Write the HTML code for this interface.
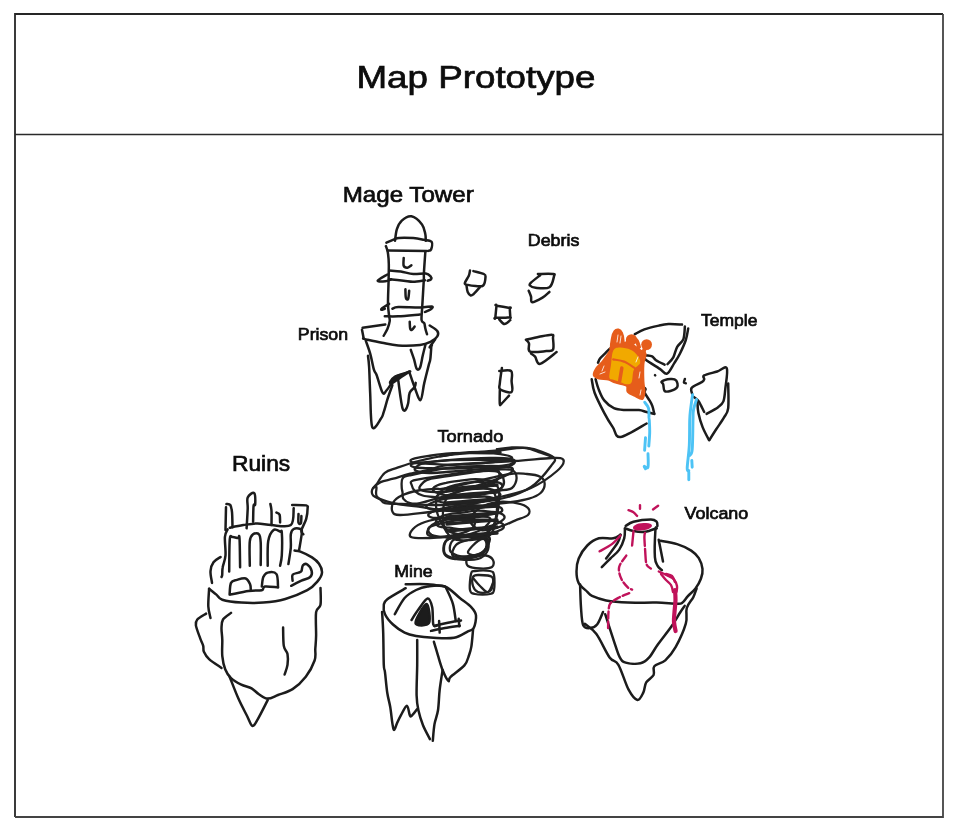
<!DOCTYPE html>
<html><head><meta charset="utf-8">
<style>
html,body{margin:0;padding:0;background:#fff;width:955px;height:831px;overflow:hidden}
svg{position:absolute;left:0;top:0;will-change:transform}
text{font-family:"Liberation Sans",sans-serif;fill:#0d0d0d;stroke:#0d0d0d;stroke-width:0.7}
</style></head><body>
<svg width="955" height="831" viewBox="0 0 955 831">
<path d="M15,817 L15,14 L943,14" fill="none" stroke="#262626" stroke-width="1.8"/>
<path d="M15,817 L943,817 L943,14" fill="none" stroke="#444" stroke-width="1.8"/>
<line x1="15" y1="134.5" x2="943" y2="134.5" stroke="#2a2a2a" stroke-width="1.6"/>
<text x="356.5" y="88.4" font-size="32" textLength="239" lengthAdjust="spacingAndGlyphs">Map Prototype</text>
<text x="342.7" y="201.8" font-size="22" textLength="131" lengthAdjust="spacingAndGlyphs">Mage Tower</text>
<text x="297.8" y="339.7" font-size="17" textLength="50.3" lengthAdjust="spacingAndGlyphs">Prison</text>
<text x="527.8" y="246.4" font-size="17" textLength="51.5" lengthAdjust="spacingAndGlyphs">Debris</text>
<text x="700.9" y="325.8" font-size="17" textLength="56.5" lengthAdjust="spacingAndGlyphs">Temple</text>
<text x="232" y="470.5" font-size="21.5" textLength="58.2" lengthAdjust="spacingAndGlyphs">Ruins</text>
<text x="437.5" y="442.2" font-size="17" textLength="65.8" lengthAdjust="spacingAndGlyphs">Tornado</text>
<text x="684.5" y="519.4" font-size="17" textLength="63.8" lengthAdjust="spacingAndGlyphs">Volcano</text>
<text x="394.2" y="576.9" font-size="17" textLength="38.5" lengthAdjust="spacingAndGlyphs">Mine</text>

<g fill="none" stroke="#1c1c1c" stroke-width="2.5" stroke-linecap="round" stroke-linejoin="round">
<path d="M395.0,240.8 C395.3,238.9 395.8,232.6 396.9,229.2 C398.0,225.8 399.4,222.8 401.8,220.6 C404.2,218.4 408.0,215.7 411.4,216.3 C414.8,216.9 419.7,221.4 422.0,224.4 C424.3,227.4 424.7,231.4 425.3,234.1 C425.9,236.8 425.7,239.7 425.8,240.8"/>
<path d="M386.4,242.7 C387.7,242.1 392.0,240.2 394.1,239.4 C396.2,238.6 395.7,238.1 398.9,237.9 C402.1,237.7 409.1,237.8 413.3,238.1 C417.5,238.4 420.8,239.2 423.9,239.8 C426.9,240.4 430.4,240.2 431.6,241.8 C432.8,243.4 431.7,248.0 431.1,249.5 C430.5,251.0 428.7,250.7 428.2,250.9"/>
<path d="M387.8,250.4 L426.8,250.9"/>
<path d="M385.9,246.1 C386.2,247.1 387.3,249.3 387.8,252.3 C388.3,255.3 388.7,259.3 388.8,263.9 C388.9,268.5 388.7,273.4 388.6,280.0 C388.5,286.6 387.9,297.9 388.0,303.8 C388.1,309.8 388.8,312.8 389.1,315.7 C389.4,318.6 390.0,319.0 389.7,321.2 C389.4,323.4 388.5,326.3 387.5,328.7 C386.5,331.1 384.3,334.6 383.7,335.8"/>
<path d="M425.3,252.3 C425.1,255.8 424.1,268.9 423.9,273.5 C423.6,278.1 424.1,274.4 423.8,280.0 C423.5,285.6 422.6,300.4 422.2,307.1 C421.8,313.8 421.2,317.4 421.6,320.1 C422.0,322.8 423.7,321.9 424.3,323.3 C424.9,324.7 424.9,326.9 425.4,328.7 C425.8,330.5 426.7,333.3 427.0,334.2"/>
<path d="M403.7,258.1 C403.7,259.4 403.1,264.2 403.7,265.8 C404.3,267.4 406.2,267.8 407.5,267.7 C408.8,267.6 410.8,265.7 411.4,265.3"/>
<path d="M405.4,289.2 C405.5,290.6 405.4,296.3 405.9,297.9 C406.3,299.5 407.6,300.2 408.1,299.0 C408.7,297.8 409.0,292.2 409.2,290.8"/>
<path d="M409.7,321.7 C409.8,322.9 409.8,327.3 410.2,328.7 C410.6,330.1 411.2,330.1 411.9,329.8 C412.6,329.5 414.2,327.1 414.6,326.6"/>
<path d="M389.2,270.6 C391.1,270.8 396.8,271.0 400.8,271.6 C404.8,272.2 409.1,273.7 413.3,274.0 C417.5,274.3 422.9,273.1 425.8,273.5 C428.7,273.9 429.7,275.4 430.6,276.4 C431.5,277.4 431.6,278.6 431.1,279.3 C430.6,280.0 428.3,280.5 427.7,280.7"/>
<path d="M387.3,274.5 C385.7,275.5 378.0,279.6 377.7,280.7 C377.4,281.8 383.1,281.4 385.4,281.2 C387.6,281.0 390.2,279.6 391.2,279.3"/>
<path d="M389.2,279.3 C391.6,279.5 399.7,280.3 403.7,280.7 C407.7,281.1 409.8,281.8 413.3,281.7 C416.8,281.6 423.0,280.5 424.9,280.3"/>
<path d="M392.4,308.7 C393.4,308.4 393.7,307.3 398.3,307.1 C402.9,306.9 414.4,307.7 420.0,307.6 C425.6,307.5 430.1,306.2 431.9,306.5 C433.7,306.8 432.0,308.3 430.8,309.2 C429.6,310.1 425.9,311.5 424.9,312.0"/>
<path d="M389.1,303.8 C387.9,304.5 383.4,307.2 382.1,308.2 C380.8,309.2 381.1,309.7 381.5,309.8 C381.9,309.9 384.2,308.9 384.8,308.7"/>
<path d="M384.8,316.3 C387.1,316.3 392.4,316.6 398.3,316.3 C404.2,316.0 416.4,314.7 420.0,314.4"/>
<path d="M362.6,327.7 L385.3,324.4"/>
<path d="M429.7,325.5 C431.0,326.4 436.0,329.1 437.3,330.9 C438.6,332.7 438.4,334.5 437.3,336.3 C436.2,338.1 433.7,340.2 430.8,341.7 C427.9,343.1 425.4,344.4 420.0,345.0 C414.6,345.6 404.6,345.9 398.3,345.5 C392.0,345.1 387.3,343.8 382.1,342.8 C376.9,341.8 370.1,340.3 366.9,339.6 C363.7,338.9 363.7,338.7 363.1,338.5"/>
<path d="M362.0,329.8 L363.7,338.5"/>
<path d="M365.8,340.7 C366.5,342.9 368.8,348.7 370.2,353.6 C371.6,358.5 372.9,366.3 374.0,369.9 C375.1,373.5 375.3,371.5 376.7,375.3 C378.1,379.1 381.0,390.2 382.6,392.7 C384.2,395.2 384.9,392.1 386.4,390.5 C387.9,388.9 390.2,385.2 391.8,382.9 C393.4,380.5 393.1,378.3 396.2,376.4 C399.3,374.5 407.9,372.3 410.2,371.5"/>
<path d="M368.0,355.8 C368.2,357.6 368.7,360.4 369.1,366.7 C369.5,373.0 369.7,383.6 370.2,393.7 C370.7,403.8 370.5,423.1 372.3,427.3 C374.1,431.5 379.1,421.1 381.0,418.6 C382.9,416.1 382.6,415.4 383.7,412.2 C384.8,409.0 386.1,403.7 387.5,399.2 C388.9,394.7 391.6,387.5 392.4,385.1"/>
<path d="M410.8,349.9 C411.3,351.4 413.0,356.0 414.0,359.1 C415.0,362.2 415.7,367.4 416.7,368.8 C417.7,370.2 419.0,369.9 420.0,367.7 C421.0,365.5 421.8,359.6 422.7,355.8 C423.6,352.0 424.9,346.8 425.4,345.0"/>
<path d="M435.1,339.6 C434.2,340.9 430.2,346.3 429.7,347.2 C429.2,348.1 431.5,345.4 431.9,345.0"/>
<path d="M431.4,345.0 C431.2,347.4 430.8,355.7 430.3,359.1 C429.8,362.5 429.6,361.6 428.6,365.6 C427.6,369.6 425.7,377.1 424.3,382.9 C422.9,388.7 422.1,399.5 420.5,400.2 C418.9,400.9 416.4,391.7 414.6,387.2 C412.8,382.7 410.5,375.5 409.7,373.2"/>
<path d="M398.3,380.7 C398.7,383.4 399.8,392.3 400.5,397.0 C401.2,401.7 401.9,406.7 402.7,408.9 C403.5,411.1 404.5,410.9 405.4,410.0 C406.3,409.1 407.4,406.4 408.1,403.5 C408.8,400.6 408.6,395.4 409.7,392.7 C410.8,390.0 413.6,388.8 414.6,387.2 C415.6,385.6 415.5,383.6 415.7,382.9"/>
<path d="M470.0,270.5 C469.8,271.4 469.7,273.6 468.8,275.7 C467.9,277.8 465.0,281.7 464.8,283.2 C464.6,284.7 465.9,284.4 467.7,284.9 C469.5,285.4 473.1,286.0 475.7,286.1 C478.3,286.2 481.6,287.0 483.2,285.5 C484.8,284.0 485.4,278.8 485.5,276.9 C485.6,275.0 485.8,275.0 483.8,274.0 C481.8,273.0 475.1,271.6 473.4,271.1" />
<path d="M466.5,285.5 C466.7,286.6 467.0,290.3 467.7,291.9 C468.4,293.5 469.6,294.9 470.5,295.3 C471.4,295.7 471.8,295.5 473.4,294.2 C474.9,292.9 478.7,288.4 479.8,287.3"/>
<path d="M537.9,274.0 C540.4,274.0 550.2,273.6 552.9,274.0 C555.6,274.4 554.6,274.1 554.0,276.3 C553.4,278.5 552.5,285.4 549.4,287.3 C546.3,289.2 538.9,288.1 535.6,287.8 C532.4,287.5 530.7,286.4 529.9,285.5 C529.1,284.6 529.3,284.3 531.0,282.6 C532.7,280.9 538.7,276.4 540.2,275.2" />
<path d="M528.7,290.7 C529.1,291.7 530.4,294.6 531.0,296.5 C531.6,298.4 530.3,302.0 532.2,302.2 C534.1,302.4 539.6,299.3 542.5,297.6 C545.4,295.9 548.2,292.8 549.4,291.9"/>
<path d="M496.5,305.7 C496.7,303.7 494.3,305.3 496.5,305.7 C498.7,306.1 507.5,307.6 509.7,308.0 C511.9,308.4 509.6,306.5 509.7,308.0 C509.8,309.5 510.2,315.7 510.3,317.2 C510.4,318.7 511.1,317.1 510.3,317.2 C509.5,317.3 508.2,317.7 505.7,317.8 C503.2,317.9 497.0,317.8 495.3,317.8 C493.6,317.8 495.1,319.8 495.3,317.8 C495.5,315.8 496.3,307.7 496.5,305.7 Z" />
<path d="M499.3,319.5 C500.2,320.3 502.7,324.0 504.5,324.1 C506.3,324.2 509.3,320.8 510.3,320.1"/>
<path d="M525.9,339.8 C528.1,339.3 534.9,337.7 539.2,336.8 C543.6,335.9 549.7,334.4 552.0,334.7 C554.3,334.9 552.8,335.8 553.0,338.3 C553.2,340.8 554.1,347.5 553.0,349.6 C551.9,351.7 550.2,350.8 546.4,351.1 C542.6,351.4 532.9,352.9 530.0,351.6 C527.1,350.3 529.7,345.4 529.0,343.4 C528.3,341.4 526.4,340.4 525.9,339.8" />
<path d="M531.0,353.6 C531.7,354.1 533.6,355.0 535.1,356.7 C536.6,358.4 536.6,364.7 540.2,363.9 C543.8,363.1 553.9,354.1 556.6,352.1"/>
<path d="M499.3,371.0 C501.3,371.0 509.1,369.3 511.1,371.0 C513.1,372.7 511.5,377.8 511.6,381.3 C511.7,384.8 513.5,390.6 511.6,392.0 C509.7,393.4 502.3,390.9 500.3,389.5 C498.3,388.1 499.5,386.9 499.8,383.3 C500.1,379.7 501.5,370.6 501.9,368.0" />
<path d="M499.8,390.5 C499.8,392.7 499.5,401.6 499.8,403.8 C500.1,406.0 499.9,405.2 501.4,403.8 C502.9,402.4 507.7,397.0 509.0,395.6"/>
<path d="M226.0,507.2 L225.5,530.0"/>
<path d="M226.5,504.0 C227.1,504.2 229.4,503.6 230.3,505.0 C231.2,506.4 231.6,508.4 232.0,512.1 C232.4,515.8 232.4,524.7 232.5,527.2"/>
<path d="M229.8,527.8 C232.1,527.3 238.7,525.8 243.3,525.1 C247.9,524.4 252.7,523.4 257.4,523.4 C262.1,523.4 265.9,524.8 271.5,525.1 C277.1,525.4 287.1,527.9 290.8,525.1 C294.5,522.3 293.2,511.1 293.7,508.3"/>
<path d="M246.6,528.3 C246.8,525.0 247.5,513.9 247.7,508.8 C247.9,503.7 246.6,500.1 247.7,497.5 C248.8,494.9 252.9,491.9 254.2,493.1 C255.4,494.3 255.3,502.4 255.2,504.5 C255.1,506.6 253.9,502.7 253.6,505.6 C253.2,508.5 253.2,519.1 253.1,521.8"/>
<path d="M270.4,504.0 C270.6,505.2 271.3,507.5 271.5,511.0 C271.7,514.5 271.5,522.8 271.5,525.1"/>
<path d="M276.4,512.6 C276.9,513.0 279.0,513.2 279.6,514.8 C280.2,516.4 280.0,521.1 280.1,522.4"/>
<path d="M292.2,504.9 C294.5,505.0 303.6,504.8 306.2,505.4 C308.8,506.0 307.6,506.1 307.6,508.3 C307.6,510.6 307.2,515.2 306.2,518.9 C305.2,522.6 301.9,527.8 301.4,530.4 C300.9,533.0 303.0,533.6 303.3,534.3"/>
<path d="M298.5,514.1 C298.5,515.5 298.1,521.2 298.5,522.7 C298.9,524.2 300.4,524.3 300.9,523.2 C301.4,522.1 301.3,517.2 301.4,516.0"/>
<path d="M227.6,529.4 C227.2,530.7 225.2,532.7 224.9,537.0 C224.6,541.3 225.9,550.4 225.5,555.4 C225.1,560.4 223.2,564.0 222.7,567.3 C222.1,570.6 222.4,573.4 222.2,575.0 C222.0,576.6 221.6,576.7 221.5,577.0"/>
<path d="M229.2,571.6 C229.3,566.2 229.2,545.0 229.8,539.2 C230.4,533.4 231.2,537.2 232.5,537.0 C233.8,536.8 236.7,537.9 237.9,538.1 C239.1,538.3 239.1,533.2 239.5,538.1 C239.9,543.0 240.0,562.4 240.1,567.3"/>
<path d="M249.8,565.7 C249.8,561.6 249.2,546.5 249.8,541.3 C250.4,536.1 251.6,535.5 253.1,534.3 C254.6,533.1 257.7,532.9 259.0,534.3 C260.3,535.6 260.4,537.3 260.7,542.4 C261.0,547.5 260.7,561.3 260.7,565.1"/>
<path d="M267.7,565.7 C267.8,561.6 267.2,547.2 268.2,541.3 C269.2,535.3 271.6,531.6 273.6,530.0 C275.6,528.4 278.7,531.1 280.1,531.6 C281.5,532.1 281.5,528.7 281.8,532.7 C282.1,536.7 282.1,549.9 281.8,555.4 C281.5,560.9 280.4,564.0 280.1,565.7"/>
<path d="M288.4,564.1 C288.8,561.4 290.4,552.7 290.8,547.7 C291.2,542.7 290.3,537.4 290.8,534.3 C291.3,531.2 292.1,529.9 293.7,529.0 C295.3,528.1 299.0,528.5 300.4,529.0 C301.8,529.5 302.1,528.7 301.9,532.3 C301.7,535.9 299.5,547.5 299.0,550.6"/>
<path d="M294.6,550.6 C295.6,550.8 297.5,550.5 300.4,551.6 C303.3,552.7 308.9,555.4 312.0,557.4 C315.1,559.4 317.3,561.3 319.0,563.8 C320.7,566.3 322.2,569.7 322.0,572.6 C321.8,575.5 319.9,578.5 317.5,581.4 C315.1,584.3 312.7,587.3 307.3,590.2 C301.9,593.1 292.6,596.9 285.3,599.0 C278.0,601.1 270.6,602.0 263.3,602.6 C256.0,603.2 248.1,603.1 241.3,602.6 C234.5,602.1 226.5,601.0 222.3,599.7 C218.2,598.4 218.6,596.4 216.4,594.6 C214.2,592.8 210.3,589.7 209.1,588.7"/>
<path d="M220.6,557.0 C219.4,557.9 215.2,559.9 213.5,562.3 C211.8,564.6 210.8,567.7 210.5,571.1 C210.2,574.5 211.8,580.9 212.0,582.9"/>
<path d="M229.6,594.6 C229.8,592.6 229.8,585.4 231.0,582.9 C232.2,580.4 234.5,580.6 236.9,579.9 C239.3,579.2 243.5,577.8 245.7,578.5 C247.9,579.2 249.2,582.3 250.1,584.3 C250.9,586.2 250.7,589.2 250.8,590.2"/>
<path d="M230.3,594.6 C233.4,594.0 243.3,591.6 248.6,590.9 C253.8,590.2 259.1,590.9 261.8,590.2 C264.5,589.5 262.1,587.0 264.8,586.5 C267.5,586.0 275.8,587.2 278.0,587.3"/>
<path d="M261.8,586.5 C262.1,584.9 262.3,579.3 263.3,577.0 C264.3,574.7 265.5,573.1 267.7,572.6 C269.9,572.1 274.8,571.7 276.5,574.1 C278.2,576.5 277.8,585.1 278.0,587.3"/>
<path d="M291.2,585.8 C292.9,584.9 298.2,582.2 301.4,580.7 C304.6,579.2 308.5,578.6 310.2,577.0 C311.9,575.4 312.2,573.2 311.7,571.1 C311.2,569.0 308.8,565.5 307.3,564.5 C305.8,563.5 303.9,564.2 302.9,565.3 C301.9,566.4 302.1,569.9 301.4,571.1 C300.7,572.3 300.0,572.0 298.5,572.6 C297.0,573.2 293.6,573.4 292.6,574.8 C291.6,576.1 292.6,579.7 292.6,580.7"/>
<path d="M209.1,588.7 C209.0,591.6 208.1,601.4 208.3,606.3 C208.5,611.2 210.1,616.0 210.5,618.0"/>
<path d="M206.1,613.6 C204.6,614.6 199.0,617.5 197.3,619.5 C195.6,621.5 195.4,622.2 195.9,625.4 C196.4,628.6 199.1,635.2 200.3,638.6 C201.5,642.0 202.6,643.7 203.2,645.9 C203.8,648.1 202.9,649.5 203.9,651.7 C204.9,653.9 206.2,656.4 209.1,659.1 C212.0,661.8 219.4,666.4 221.5,667.9"/>
<path d="M231.0,612.9 C229.7,614.0 224.6,616.9 223.0,619.5 C221.4,622.1 221.6,624.9 221.5,628.3 C221.4,631.7 222.2,635.4 222.3,640.0 C222.4,644.6 221.8,651.2 222.3,656.1 C222.8,661.0 223.8,665.6 225.2,669.3 C226.6,673.0 228.3,675.5 231.0,678.1 C233.7,680.7 237.9,683.0 241.3,684.7 C244.7,686.4 248.7,686.8 251.6,688.4 C254.5,690.0 256.2,692.5 258.9,694.2 C261.6,695.9 264.5,698.5 267.7,698.6 C270.9,698.7 273.9,696.6 278.0,695.0 C282.1,693.4 288.0,692.1 292.6,689.1 C297.2,686.1 302.1,681.5 305.8,676.7 C309.5,671.9 313.0,665.1 314.6,660.5 C316.2,655.9 315.1,652.9 315.3,648.8 C315.6,644.6 316.0,641.7 316.1,635.6 C316.2,629.5 315.4,617.3 316.1,612.2 C316.8,607.1 319.8,608.8 320.5,604.8 C321.2,600.8 320.5,590.8 320.5,588.0"/>
<path d="M229.6,676.7 C231.1,680.4 235.5,692.0 238.4,698.6 C241.3,705.2 244.9,711.7 247.2,716.2 C249.5,720.7 250.6,725.2 252.3,725.8 C254.0,726.4 254.8,724.2 257.4,719.9 C260.0,715.6 266.0,703.4 267.7,700.1"/>
<path d="M283.1,627.6 C283.2,630.6 283.1,641.5 283.8,645.9 C284.5,650.3 286.9,650.7 287.5,653.9 C288.1,657.1 288.0,661.5 287.5,664.9 C287.0,668.3 285.1,672.9 284.6,674.5"/>
<path d="M405.7,584.2 C409.4,584.2 421.1,583.8 427.6,584.2 C434.1,584.6 442.0,586.1 444.9,586.5"/>
<path d="M405.7,588.2 C402.6,590.0 390.9,596.4 387.3,599.2 C383.7,602.0 384.2,602.5 383.8,605.0 C383.4,607.5 383.5,611.0 385.0,614.2 C386.5,617.5 389.7,621.4 393.0,624.5 C396.3,627.6 400.8,630.7 404.6,632.6 C408.5,634.5 411.3,635.1 416.1,636.0 C420.9,636.9 427.0,637.5 433.3,637.8 C439.6,638.1 448.3,638.9 454.1,637.8 C459.9,636.7 464.6,633.0 467.9,631.4 C471.2,629.8 472.3,630.7 473.7,628.0 C475.1,625.3 476.4,618.8 476.0,615.3 C475.6,611.8 474.1,610.2 471.4,607.3 C468.7,604.4 464.2,601.5 459.8,598.0 C455.4,594.5 450.3,588.4 444.9,586.5 C439.5,584.6 432.4,585.9 427.6,586.5 C422.8,587.1 419.9,588.1 416.1,590.0 C412.3,591.9 408.2,594.0 404.6,598.0 C401.1,602.0 396.4,611.5 394.8,614.2"/>
<path d="M446.0,587.7 C447.1,590.4 451.3,598.2 452.9,603.8 C454.5,609.4 455.3,618.2 455.8,621.1"/>
<path d="M411.5,620.0 C412.6,618.3 415.7,613.2 418.4,609.6 C421.1,606.0 425.3,599.0 427.6,598.6 C429.9,598.2 431.2,603.0 432.2,607.3 C433.1,611.6 432.5,621.4 433.3,624.5 C434.1,627.6 436.2,625.5 436.8,625.7"/>
<path d="M415.5,623.0 C415.1,619.8 424.2,604.0 426.5,604.0 C428.8,604.0 430.8,619.8 429.0,623.0 C427.2,626.2 415.9,626.2 415.5,623.0 Z" fill="#1c1c1c"/>
<path d="M431.0,630.9 C433.3,630.4 440.1,628.9 444.9,628.0 C449.7,627.1 457.3,626.1 459.8,625.7"/>
<path d="M434.5,625.7 C437.2,625.1 446.2,623.1 450.6,622.2 C455.0,621.3 459.3,620.8 461.0,620.5"/>
<path d="M439.1,621.1 L439.7,632.6"/>
<path d="M458.7,618.8 L459.3,626.3"/>
<path d="M382.1,611.9 C382.3,615.4 382.9,623.8 383.2,632.6 C383.5,641.5 383.5,658.4 383.8,665.0 C384.1,671.6 384.4,667.6 385.0,672.3 C385.6,677.0 386.4,687.2 387.3,693.0 C388.2,698.8 389.3,701.6 390.2,706.8 C391.1,712.0 391.8,720.2 392.5,724.1 C393.2,728.0 393.4,730.1 394.2,729.9 C395.0,729.7 396.0,725.5 397.1,723.0 C398.2,720.5 399.5,717.8 401.1,714.9 C402.7,712.0 405.5,705.7 406.9,705.7 C408.3,705.7 408.9,713.2 409.7,714.9 C410.5,716.6 410.2,717.0 411.5,716.0 C412.8,715.0 416.2,710.2 417.2,709.1"/>
<path d="M417.2,640.1 C417.2,644.2 417.3,655.8 417.2,665.0 C417.1,674.2 416.4,687.8 416.6,695.3 C416.8,702.8 417.3,705.3 418.4,710.3 C419.5,715.3 421.1,720.5 423.0,725.3 C424.9,730.1 428.8,736.8 429.9,739.1"/>
<path d="M433.9,641.8 C434.6,644.1 436.6,650.9 438.0,655.6 C439.4,660.3 440.9,665.8 442.6,670.0 C444.3,674.2 447.0,679.8 448.3,680.9 C449.6,682.0 447.9,679.5 450.6,676.9 C453.3,674.3 461.3,669.0 464.4,665.4 C467.5,661.8 467.9,658.2 469.1,655.0 C470.3,651.8 470.7,650.7 471.4,646.4 C472.1,642.1 472.8,632.0 473.1,629.1"/>
<path d="M442.6,670.0 C442.1,673.3 440.5,682.9 439.7,689.6 C438.9,696.3 438.9,704.5 438.0,710.3 C437.1,716.0 435.4,719.0 434.5,724.1 C433.6,729.2 433.1,738.0 432.8,740.8"/>
<path d="M625.6,526.0 C626.9,525.3 629.3,522.8 633.5,521.7 C637.7,520.6 647.0,519.5 650.9,519.5 C654.8,519.5 655.5,520.6 656.6,521.7 C657.7,522.8 657.3,525.3 657.4,526.0"/>
<path d="M624.9,528.2 C626.3,528.7 630.1,530.5 633.5,531.1 C636.9,531.7 641.2,532.3 645.1,531.8 C649.0,531.3 654.7,528.8 656.6,528.2"/>
<path d="M624.9,528.9 C624.8,530.5 625.2,534.8 624.2,538.3 C623.2,541.8 621.4,546.5 619.1,549.9 C616.8,553.3 613.3,555.6 610.4,558.5 C607.5,561.4 603.2,565.8 601.8,567.2"/>
<path d="M620.5,534.7 C620.0,536.0 620.1,538.7 617.7,542.7 C615.3,546.7 608.0,555.9 606.1,558.5"/>
<path d="M656.6,528.2 C656.4,528.5 655.7,525.2 655.4,530.0 C655.1,534.8 654.5,551.1 654.9,557.1 C655.3,563.1 656.4,563.6 657.6,565.8 C658.8,568.0 661.2,569.4 661.9,570.1"/>
<path d="M658.7,539.8 L663.0,561.4"/>
<path d="M620.5,534.7 C619.3,535.3 616.9,537.7 613.3,538.3 C609.7,538.9 603.2,537.1 598.9,538.3 C594.6,539.5 590.7,542.1 587.3,545.5 C583.9,548.9 580.5,554.2 578.7,558.5 C576.9,562.8 576.5,567.4 576.5,571.5 C576.5,575.6 576.9,579.7 578.7,583.1 C580.5,586.5 585.1,589.7 587.3,591.8 C589.5,593.9 588.9,594.5 592.0,595.9 C595.1,597.3 600.1,599.3 606.1,600.4 C612.1,601.5 619.4,602.2 627.8,602.6 C636.2,603.0 648.4,602.4 656.6,602.6 C664.8,602.8 672.8,603.7 677.1,603.7 C681.4,603.7 680.7,603.9 682.5,602.6 C684.3,601.3 685.7,598.5 687.9,596.1 C690.1,593.8 693.3,591.4 695.5,588.5 C697.7,585.6 699.7,582.0 700.9,578.8 C702.1,575.5 702.9,572.4 702.5,569.0 C702.1,565.6 700.7,561.3 698.8,558.2 C696.9,555.1 694.8,553.0 691.2,550.6 C687.6,548.2 682.2,545.7 677.1,544.1 C672.0,542.5 663.5,541.3 660.8,540.8"/>
<path d="M580.1,584.5 C580.2,588.4 580.5,600.8 581.0,607.6 C581.5,614.4 581.7,621.8 583.2,625.2 C584.7,628.6 587.5,628.2 589.8,628.1 C592.1,628.0 594.9,627.2 597.1,624.5 C599.3,621.8 602.0,614.1 603.0,612.0"/>
<path d="M584.7,623.7 C586.7,625.4 592.2,628.4 596.4,634.0 C600.5,639.6 605.9,652.3 609.6,657.4 C613.3,662.5 615.2,659.4 618.4,664.8 C621.6,670.2 625.4,683.8 628.6,689.7 C631.8,695.6 635.0,699.5 637.4,700.0 C639.8,700.5 641.8,695.5 643.3,692.6 C644.8,689.7 644.5,685.3 646.2,682.4 C647.9,679.5 652.2,677.7 653.6,675.0 C655.0,672.3 652.3,668.6 654.3,666.2 C656.2,663.8 661.8,663.6 665.3,660.4 C668.8,657.2 672.2,653.3 675.6,647.2 C679.0,641.1 683.9,630.2 685.8,623.7 C687.7,617.2 685.5,612.4 686.8,608.0 C688.0,603.6 691.7,600.5 693.3,597.2 C694.9,594.0 696.0,590.0 696.6,588.5"/>
<path d="M605.2,614.2 C606.7,618.7 611.6,634.1 614.0,641.3 C616.4,648.5 617.8,653.8 619.8,657.4 C621.8,661.0 622.3,661.6 625.7,662.6 C629.1,663.6 636.5,664.2 640.4,663.3 C644.3,662.4 646.3,660.6 649.2,657.4 C652.1,654.2 654.3,649.3 658.0,644.2 C661.7,639.1 667.5,632.0 671.2,626.7 C674.9,621.4 678.0,615.8 680.3,612.3 C682.5,608.8 684.0,606.9 684.7,605.8"/>
<path d="M634.8,334.2 C636.4,333.4 640.4,330.8 644.4,329.4 C648.4,328.0 654.9,326.5 658.9,325.6 C662.9,324.7 664.6,324.3 668.5,324.1 C672.4,323.9 679.8,324.5 682.0,324.6"/>
<path d="M684.9,326.5 C684.6,328.6 684.7,335.7 683.4,339.1 C682.1,342.5 678.9,343.8 677.2,346.8 C675.5,349.8 674.9,354.4 673.3,357.3 C671.7,360.2 668.5,363.0 667.5,364.1"/>
<path d="M688.2,328.5 C687.8,330.4 687.2,335.8 685.8,340.0 C684.4,344.2 681.9,349.6 680.0,353.5 C678.1,357.4 676.5,359.7 674.3,363.1 C672.1,366.5 669.4,372.7 667.0,373.7 C664.6,374.7 663.2,371.1 659.8,368.9 C656.4,366.6 649.0,362.1 646.4,360.2 C643.8,358.3 644.7,357.8 644.4,357.3"/>
<path d="M646.4,355.4 C647.4,355.6 650.5,355.6 652.1,356.4 C653.7,357.2 653.9,358.8 656.0,360.2 C658.1,361.6 663.2,363.9 664.6,364.6"/>
<path d="M661.8,381.4 C663.0,380.5 668.0,379.2 670.4,379.0 C672.8,378.8 675.1,379.0 676.2,380.4 C677.3,381.8 678.2,385.4 677.2,387.2 C676.2,389.0 672.5,390.4 670.4,391.0 C668.3,391.6 665.8,392.1 664.6,391.0 C663.4,389.9 663.7,385.9 663.2,384.3 C662.7,382.7 660.6,382.3 661.8,381.4 Z" />
<path d="M684.9,379.0 C684.7,379.6 683.8,381.7 683.9,382.4 C684.0,383.1 685.5,383.1 685.8,383.3"/>
<path d="M655.0,375.2 L655.2,375.4"/>
<path d="M692.1,393.7 C692.0,392.7 690.1,389.8 691.7,387.9 C693.3,386.0 699.7,383.6 701.8,382.1 C703.9,380.7 703.8,380.3 704.2,379.2 C704.6,378.1 702.0,376.7 704.2,375.4 C706.4,374.1 713.4,372.7 717.2,371.5 C721.0,370.3 725.4,365.3 726.8,368.2 C728.1,371.1 725.9,383.4 725.3,388.9 C724.7,394.4 724.6,398.3 723.4,401.4 C722.2,404.4 720.9,405.1 718.1,407.2 C715.3,409.3 708.5,412.8 706.6,413.9"/>
<path d="M693.1,396.6 C693.9,397.2 696.6,399.0 697.9,400.4 C699.2,401.8 699.8,403.3 700.8,405.2 C701.8,407.1 703.6,410.9 704.2,412.0"/>
<path d="M728.2,383.6 C728.2,387.7 728.9,402.4 728.2,408.1 C727.5,413.8 725.9,414.2 723.9,417.7 C721.9,421.2 718.6,425.6 716.2,429.3 C713.8,433.0 710.6,438.1 709.5,439.9"/>
<path d="M697.4,401.4 C697.6,403.3 697.5,408.6 698.4,412.9 C699.3,417.2 700.9,422.8 702.7,427.4 C704.5,431.9 708.0,438.1 709.1,440.2"/>
<path d="M609.9,348.6 C609.2,349.3 607.2,351.3 605.6,352.9 C604.0,354.5 601.5,356.7 600.2,358.3 C598.9,359.9 598.4,362.0 598.0,362.7"/>
<path d="M595.6,379.2 C596.1,380.8 597.1,385.4 598.5,388.9 C599.9,392.4 601.6,397.2 604.2,400.4 C606.8,403.6 610.4,406.5 613.9,408.1 C617.4,409.7 621.2,409.7 625.4,410.0 C629.6,410.3 635.4,409.7 638.9,410.0 C642.4,410.3 644.0,411.4 646.6,412.0 C649.2,412.6 653.0,413.6 654.3,413.9"/>
<path d="M591.7,379.2 C592.2,381.4 592.5,387.1 594.6,392.7 C596.7,398.3 601.2,407.1 604.2,412.9 C607.2,418.7 610.2,423.4 612.9,427.4 C615.6,431.4 615.0,437.6 620.6,437.0 C626.2,436.4 642.3,425.8 646.6,423.5"/>
<path d="M642.7,387.0 C643.2,387.3 645.3,387.9 645.6,388.9 C645.9,389.8 644.1,390.8 644.7,392.7 C645.4,394.6 648.2,398.1 649.5,400.4 C650.8,402.6 651.6,403.9 652.4,406.2 C653.2,408.4 654.0,412.6 654.3,413.9"/>
</g>
<path d="M390.0,382.0 C390.5,380.8 392.9,377.8 395.0,376.5 C397.1,375.2 400.2,375.3 402.7,374.5 C405.1,373.7 410.1,370.9 409.7,371.5 C409.2,372.1 402.9,376.0 400.0,378.0 C397.1,380.0 393.7,382.8 392.0,383.5 C390.3,384.2 389.5,383.2 390.0,382.0 Z" fill="#1c1c1c" stroke="#1c1c1c" stroke-width="2.2" stroke-linejoin="round"/>
<path d="M611.0,348.0 C612.6,346.9 616.8,344.7 620.0,344.0 C623.2,343.3 626.5,342.8 630.0,344.0 C633.5,345.2 638.5,349.4 641.0,351.0 C643.5,352.6 644.9,351.6 645.3,353.8 C645.7,356.0 643.6,359.4 643.2,364.0 C642.9,368.6 643.0,376.8 643.2,381.4 C643.4,386.0 644.4,388.7 644.2,391.6 C644.0,394.5 643.7,398.1 642.2,398.8 C640.7,399.5 637.4,396.9 635.0,395.7 C632.6,394.5 629.3,393.3 627.9,391.6 C626.5,389.9 628.8,387.0 626.8,385.5 C624.8,384.0 618.7,383.4 615.6,382.4 C612.5,381.4 611.1,380.1 608.4,379.4 C605.7,378.7 601.6,379.0 599.2,378.3 C596.8,377.6 594.6,376.8 594.1,375.3 C593.6,373.8 594.6,371.5 596.1,369.1 C597.6,366.7 600.9,364.0 603.3,360.9 C605.7,357.8 609.2,352.8 610.5,350.7 C611.8,348.6 609.4,349.1 611.0,348.0 Z" fill="#e65d1b" stroke="#e65d1b" stroke-width="2.5" stroke-linejoin="round"/>
<path d="M611.5,350.0 C609.7,348.3 611.5,341.2 612.0,338.0 C612.5,334.8 613.4,332.4 614.5,331.0 C615.6,329.6 617.2,329.2 618.5,329.5 C619.8,329.8 621.2,331.2 622.0,333.0 C622.8,334.8 623.3,337.5 623.5,340.0 C623.7,342.5 625.0,346.3 623.0,348.0 C621.0,349.7 613.3,351.7 611.5,350.0 Z" fill="#e65d1b" stroke="#e65d1b" stroke-width="2" stroke-linejoin="round"/>
<circle cx="631.5" cy="339.8" r="5.6" fill="#e65d1b"/>
<circle cx="646.6" cy="344.6" r="5.4" fill="#e65d1b"/>
<path d="M626.0,345.0 C626.5,344.2 627.3,340.8 629.0,340.0 C630.7,339.2 634.3,338.8 636.0,340.0 C637.7,341.2 638.5,345.8 639.0,347.0" fill="none" stroke="#e65d1b" stroke-width="4" stroke-linecap="round"/>
<path d="M643.0,354.0 C643.3,353.0 644.2,349.5 645.0,348.0 C645.8,346.5 647.5,345.5 648.0,345.0" fill="none" stroke="#e65d1b" stroke-width="4" stroke-linecap="round"/>
<path d="M613.2,350.7 C614.7,347.8 616.8,347.7 619.7,347.5 C622.6,347.3 627.6,348.4 630.5,349.7 C633.4,351.0 635.4,352.9 637.0,355.1 C638.6,357.3 640.8,360.2 640.2,362.7 C639.7,365.2 635.1,366.9 633.7,370.2 C632.3,373.4 632.9,379.8 631.6,382.2 C630.4,384.6 628.0,384.3 626.2,384.3 C624.4,384.3 622.7,382.9 620.7,382.2 C618.7,381.5 616.1,380.7 614.2,380.0 C612.3,379.3 609.9,380.3 609.4,377.8 C608.9,375.3 610.4,369.3 611.0,364.8 C611.6,360.3 611.8,353.6 613.2,350.7 Z" fill="#f1a900" stroke="none"/>
<path d="M613.2,359.4 C615.0,359.8 620.4,360.2 624.0,361.6 C627.6,363.1 633.0,367.0 634.8,368.1" fill="none" stroke="#e65d1b" stroke-width="2.2" stroke-linecap="round"/>
<path d="M621.8,368.1 L619.7,381.0" fill="none" stroke="#e65d1b" stroke-width="3.5" stroke-linecap="round"/>
<path d="M618.0,335.0 L617.0,342.0" fill="none" stroke="#fff" stroke-width="1.0" stroke-linecap="round" opacity="0.8"/>
<path d="M621.0,336.0 L620.0,343.0" fill="none" stroke="#fff" stroke-width="1.0" stroke-linecap="round" opacity="0.8"/>
<path d="M600.0,374.0 L605.0,372.0" fill="none" stroke="#fff" stroke-width="1.0" stroke-linecap="round" opacity="0.8"/>
<path d="M640.0,372.0 L639.0,378.0" fill="none" stroke="#fff" stroke-width="1.0" stroke-linecap="round" opacity="0.8"/>
<path d="M641.0,390.0 L640.0,395.0" fill="none" stroke="#fff" stroke-width="1.0" stroke-linecap="round" opacity="0.8"/>
<path d="M604.0,366.0 L602.0,371.0" fill="none" stroke="#fff" stroke-width="1.0" stroke-linecap="round" opacity="0.8"/>
<path d="M638.0,357.0 L636.0,362.0" fill="none" stroke="#fff" stroke-width="1.0" stroke-linecap="round" opacity="0.8"/>
<path d="M644.7,402.3 C645.3,403.3 647.8,405.5 648.5,408.1 C649.2,410.7 648.9,415.7 649.0,417.7 C649.1,419.7 649.2,417.5 649.3,420.0 C649.4,422.5 649.8,428.2 649.7,432.6 C649.6,437.0 648.9,443.9 648.8,446.1" fill="none" stroke="#4dc3f5" stroke-width="2.9" stroke-linecap="round" stroke-linejoin="round"/>
<path d="M645.5,437.7 L644.6,450.3" fill="none" stroke="#4dc3f5" stroke-width="2.9" stroke-linecap="round" stroke-linejoin="round"/>
<path d="M648.0,453.7 C648.0,455.9 648.6,465.1 648.0,467.2 C647.4,469.3 644.6,466.0 644.2,466.3 C643.8,466.6 645.3,468.4 645.5,468.8" fill="none" stroke="#4dc3f5" stroke-width="2.9" stroke-linecap="round" stroke-linejoin="round"/>
<path d="M692.6,394.6 C692.2,397.2 691.0,405.8 690.5,410.0 C690.0,414.2 689.9,414.1 689.7,420.0 C689.5,425.9 689.7,437.3 689.3,445.3 C688.9,453.3 687.3,463.8 687.2,468.0 C687.1,472.2 688.5,470.1 688.8,470.5" fill="none" stroke="#4dc3f5" stroke-width="2.9" stroke-linecap="round" stroke-linejoin="round"/>
<path d="M688.8,472.0 L688.8,479.8" fill="none" stroke="#4dc3f5" stroke-width="2.9" stroke-linecap="round" stroke-linejoin="round"/>
<path d="M696.5,399.5 C696.0,401.2 694.1,406.6 693.5,410.0 C692.9,413.4 693.2,413.4 693.0,420.0 C692.8,426.6 692.8,443.6 692.2,449.5 C691.7,455.4 690.1,454.4 689.7,455.4" fill="none" stroke="#4dc3f5" stroke-width="2.9" stroke-linecap="round" stroke-linejoin="round"/>
<path d="M691.8,460.4 L692.2,467.2" fill="none" stroke="#4dc3f5" stroke-width="2.9" stroke-linecap="round" stroke-linejoin="round"/>
<path d="M628.5,510.2 C629.3,510.5 632.1,511.3 633.5,512.3 C634.9,513.2 636.5,515.3 637.1,515.9" fill="none" stroke="#c0125a" stroke-width="2.4" stroke-linecap="round" stroke-linejoin="round"/>
<path d="M640.0,505.1 L640.0,508.7" fill="none" stroke="#c0125a" stroke-width="2.4" stroke-linecap="round" stroke-linejoin="round"/>
<path d="M653.0,509.4 L658.1,505.8" fill="none" stroke="#c0125a" stroke-width="2.4" stroke-linecap="round" stroke-linejoin="round"/>
<path d="M634.0,527.5 C634.3,526.7 637.0,525.1 639.0,524.5 C641.0,523.9 644.0,523.8 646.0,524.0 C648.0,524.2 650.8,524.8 651.0,525.5 C651.2,526.2 649.3,527.8 647.0,528.5 C644.7,529.2 639.2,529.7 637.0,529.5 C634.8,529.3 633.7,528.3 634.0,527.5 Z" fill="#c0125a" stroke="#c0125a" stroke-width="2"/>
<path d="M633.5,531.1 L632.1,545.5" fill="none" stroke="#c0125a" stroke-width="2.4" stroke-linecap="round" stroke-linejoin="round"/>
<path d="M626.3,555.6 C625.1,557.5 619.9,563.3 619.1,567.2 C618.3,571.1 619.8,575.4 621.3,578.8 C622.8,582.2 626.0,585.6 627.8,587.4 C629.6,589.2 631.4,589.2 632.1,589.6" stroke-dasharray="7 3" fill="none" stroke="#c0125a" stroke-width="2.4" stroke-linecap="round" stroke-linejoin="round"/>
<path d="M629.2,593.2 C627.5,593.9 622.2,595.8 619.1,597.5 C616.0,599.2 612.2,600.9 610.4,603.3 C608.6,605.7 608.9,607.9 608.5,612.0 C608.1,616.1 608.2,625.4 608.1,628.1" stroke-dasharray="7 3" fill="none" stroke="#c0125a" stroke-width="2.4" stroke-linecap="round" stroke-linejoin="round"/>
<path d="M599.6,551.3 C601.6,550.1 608.4,546.8 611.9,544.1 C615.4,541.5 619.1,536.9 620.5,535.4" fill="none" stroke="#c0125a" stroke-width="2.4" stroke-linecap="round" stroke-linejoin="round"/>
<path d="M645.0,533.0 C644.9,533.6 644.4,534.1 644.4,536.9 C644.4,539.7 644.8,545.3 645.1,549.9 C645.5,554.5 645.5,561.2 646.5,564.3 C647.5,567.4 650.2,567.9 650.9,568.6" stroke-dasharray="13 3" fill="none" stroke="#c0125a" stroke-width="2.4" stroke-linecap="round" stroke-linejoin="round"/>
<path d="M658.8,571.5 C660.4,572.2 665.7,574.6 668.2,575.9 C670.7,577.2 672.5,577.8 674.0,579.5 C675.5,581.2 676.6,583.9 677.0,586.0 C677.4,588.1 676.6,591.0 676.5,592.0" fill="none" stroke="#c0125a" stroke-width="2.4" stroke-linecap="round" stroke-linejoin="round"/>
<path d="M661.0,574.0 C661.8,575.0 664.3,578.2 666.0,580.0 C667.7,581.8 669.8,583.0 671.0,585.0 C672.2,587.0 672.7,590.8 673.0,592.0" fill="none" stroke="#c0125a" stroke-width="2.4" stroke-linecap="round" stroke-linejoin="round"/>
<path d="M666.0,574.0 C667.0,574.3 670.5,574.7 672.0,576.0 C673.5,577.3 674.5,581.0 675.0,582.0" fill="none" stroke="#c0125a" stroke-width="2.4" stroke-linecap="round" stroke-linejoin="round"/>
<path d="M675.0,590.0 C675.1,591.7 675.6,596.3 675.5,600.0 C675.4,603.7 674.8,608.3 674.5,612.0 C674.2,615.7 673.8,618.8 674.0,622.0 C674.2,625.2 675.3,629.5 675.6,631.0" fill="none" stroke="#c0125a" stroke-width="4.2" stroke-linecap="round" stroke-linejoin="round"/>
<path d="M376.4,484.6 C378.5,481.8 381.3,475.6 384.8,472.8 C388.3,470.0 391.9,469.7 397.5,467.7 C403.1,465.7 410.1,463.1 418.5,461.0 C426.9,458.9 434.9,456.9 448.0,455.1 C461.1,453.4 483.8,451.7 497.0,450.5 C510.2,449.3 517.7,446.9 527.0,448.0 C536.3,449.1 549.0,454.0 553.0,457.0 C557.0,460.0 554.7,461.0 551.0,466.0 C547.3,471.0 539.5,481.5 531.0,487.0 C522.5,492.5 513.8,496.0 500.0,499.0 C486.2,502.0 464.4,504.0 448.0,504.8 C431.6,505.6 412.2,504.3 401.7,504.0 C391.2,503.7 388.3,503.8 384.8,503.1 C381.3,502.4 382.6,501.0 380.6,499.7 C378.7,498.4 374.5,497.2 373.1,495.5 C371.7,493.8 371.6,491.4 372.2,489.6 C372.8,487.8 374.3,487.4 376.4,484.6 Z" fill="none" stroke="#222" stroke-width="2.3" stroke-linejoin="round" stroke-linecap="round"/>
<path d="M373.1,488.0 C373.8,487.2 377.2,483.7 380.6,482.1 C384.0,480.6 388.4,480.1 393.3,478.7 C398.2,477.3 403.8,475.2 410.1,473.6 C416.4,472.1 424.9,470.8 431.2,469.4 C437.5,468.0 434.2,466.6 448.0,465.2 C461.8,463.8 496.7,462.2 514.0,461.0 C531.3,459.8 543.8,458.2 552.0,458.0 C560.2,457.8 562.7,457.8 563.5,460.0 C564.3,462.2 562.4,466.3 557.0,471.0 C551.6,475.7 540.5,483.7 531.0,488.0 C521.5,492.3 513.8,493.5 500.0,497.0 C486.2,500.5 461.6,507.4 448.0,509.0 C434.4,510.6 427.6,507.5 418.5,506.5 C409.4,505.5 400.2,504.7 393.3,503.1 C386.4,501.6 380.1,499.9 377.3,497.2 C374.5,494.5 377.1,488.6 376.4,487.1 C375.7,485.6 372.4,488.8 373.1,488.0 Z" fill="none" stroke="#222" stroke-width="2.3" stroke-linejoin="round" stroke-linecap="round"/>
<path d="M392.4,511.5 C391.3,509.4 391.8,505.0 393.3,502.3 C394.9,499.6 397.5,497.5 401.7,495.5 C405.9,493.5 412.9,491.6 418.5,490.5 C424.1,489.4 430.5,489.2 435.4,488.8 C440.3,488.4 436.2,490.4 448.0,488.0 C459.8,485.6 492.8,476.9 506.0,474.6 C519.2,472.3 521.2,473.6 527.0,474.0 C532.8,474.4 537.6,475.3 540.6,477.0 C543.6,478.7 544.7,481.3 544.7,484.0 C544.7,486.7 543.2,490.6 540.6,493.0 C538.0,495.4 533.8,497.2 529.0,498.7 C524.2,500.2 521.8,500.6 512.0,502.0 C502.2,503.4 483.7,505.3 470.0,507.0 C456.3,508.7 441.7,510.7 430.0,512.0 C418.3,513.3 406.3,515.1 400.0,515.0 C393.7,514.9 393.5,513.6 392.4,511.5 Z" fill="none" stroke="#222" stroke-width="2.3" stroke-linejoin="round" stroke-linecap="round"/>
<path d="M401.7,487.1 C401.7,484.9 401.1,480.7 402.5,478.7 C403.9,476.7 402.5,477.1 410.1,475.3 C417.7,473.5 434.7,469.6 448.0,468.0 C461.3,466.4 479.3,466.0 490.0,466.0 C500.7,466.0 509.5,466.3 512.0,468.0 C514.5,469.7 512.0,472.7 505.0,476.0 C498.0,479.3 479.5,484.8 470.0,488.0 C460.5,491.2 456.3,492.5 448.0,495.0 C439.7,497.5 426.3,501.6 420.0,503.0 C413.7,504.4 412.9,503.8 410.1,503.1 C407.3,502.4 404.7,500.7 403.4,498.9 C402.1,497.1 402.8,494.2 402.5,492.2 C402.2,490.2 401.7,489.4 401.7,487.1 Z" fill="none" stroke="#222" stroke-width="2.3" stroke-linejoin="round" stroke-linecap="round"/>
<path d="M415.2,470.3 C413.3,469.0 416.5,466.5 418.5,465.2 C420.5,463.9 422.1,463.5 427.0,462.7 C431.9,461.9 437.5,461.0 448.0,460.2 C458.5,459.4 479.3,458.2 490.0,458.0 C500.7,457.8 508.0,458.1 512.0,459.0 C516.0,459.9 515.2,462.3 514.0,463.6 C512.8,464.9 512.3,465.9 505.0,467.0 C497.7,468.1 482.5,469.0 470.0,470.0 C457.5,471.0 439.1,472.9 430.0,473.0 C420.9,473.1 417.1,471.6 415.2,470.3 Z" fill="none" stroke="#222" stroke-width="2.3" stroke-linejoin="round" stroke-linecap="round"/>
<path d="M413.5,480.4 C408.8,482.0 411.5,483.6 411.8,485.4 C412.1,487.2 413.4,489.6 415.2,491.3 C417.0,493.0 419.3,494.5 422.7,495.5 C426.1,496.5 431.2,496.8 435.4,497.2 C439.6,497.6 439.7,498.6 448.0,498.1 C456.3,497.6 475.8,496.0 485.0,494.0 C494.2,492.0 500.8,489.7 503.0,486.0 C505.2,482.3 503.5,474.3 498.0,472.0 C492.5,469.7 479.7,471.3 470.0,472.0 C460.3,472.7 449.4,474.6 440.0,476.0 C430.6,477.4 418.2,478.8 413.5,480.4 Z" fill="none" stroke="#222" stroke-width="2.3" stroke-linejoin="round" stroke-linecap="round"/>
<path d="M420.2,489.6 C417.5,488.0 421.8,483.9 423.6,482.1 C425.4,480.3 427.1,479.7 431.2,478.7 C435.3,477.7 438.2,477.6 448.0,476.2 C457.8,474.8 481.5,470.7 490.0,470.0 C498.5,469.3 498.2,470.0 499.0,472.0 C499.8,474.0 499.8,479.3 495.0,482.0 C490.2,484.7 479.2,486.3 470.0,488.0 C460.8,489.7 448.3,491.7 440.0,492.0 C431.7,492.3 422.9,491.2 420.2,489.6 Z" fill="none" stroke="#222" stroke-width="2.3" stroke-linejoin="round" stroke-linecap="round"/>
<path d="M411.0,537.0 C408.2,535.5 410.7,531.5 413.0,529.0 C415.3,526.5 419.7,523.9 425.0,522.0 C430.3,520.1 437.5,518.6 445.0,517.6 C452.5,516.6 465.0,515.3 470.0,516.0 C475.0,516.7 475.0,519.7 475.0,522.0 C475.0,524.3 474.2,527.7 470.0,530.0 C465.8,532.3 456.7,534.7 450.0,536.0 C443.3,537.3 436.5,537.8 430.0,538.0 C423.5,538.2 413.8,538.5 411.0,537.0 Z" fill="none" stroke="#222" stroke-width="2.3" stroke-linejoin="round" stroke-linecap="round"/>
<path d="M428.0,535.0 C425.8,533.0 428.3,527.7 432.0,525.0 C435.7,522.3 440.7,520.3 450.0,519.0 C459.3,517.7 482.2,515.7 488.0,517.0 C493.8,518.3 488.0,524.2 485.0,527.0 C482.0,529.8 476.7,532.3 470.0,534.0 C463.3,535.7 452.0,536.8 445.0,537.0 C438.0,537.2 430.2,537.0 428.0,535.0 Z" fill="none" stroke="#222" stroke-width="2.3" stroke-linejoin="round" stroke-linecap="round"/>
<path d="M498.0,502.0 C504.3,501.2 512.6,502.3 517.6,503.3 C522.6,504.3 526.3,506.1 528.0,508.0 C529.7,509.9 530.2,512.9 528.0,515.0 C525.8,517.1 520.0,518.5 515.0,520.6 C510.0,522.7 503.8,525.9 498.0,527.5 C492.2,529.1 484.7,531.2 480.0,530.0 C475.3,528.8 470.0,523.7 470.0,520.0 C470.0,516.3 475.3,511.0 480.0,508.0 C484.7,505.0 491.7,502.8 498.0,502.0 Z" fill="none" stroke="#222" stroke-width="2.3" stroke-linejoin="round" stroke-linecap="round"/>
<path d="M443.4,548.0 C443.6,545.3 444.2,541.9 447.0,540.0 C449.8,538.1 453.2,537.0 460.0,536.4 C466.8,535.8 483.7,534.5 488.0,536.4 C492.3,538.3 488.2,544.6 486.0,548.0 C483.8,551.4 480.2,555.2 475.0,557.0 C469.8,558.8 459.8,559.2 455.0,559.0 C450.2,558.8 447.9,557.8 446.0,556.0 C444.1,554.2 443.2,550.7 443.4,548.0 Z" fill="none" stroke="#222" stroke-width="2.3" stroke-linejoin="round" stroke-linecap="round"/>
<path d="M466.6,559.0 C466.9,557.3 466.8,556.6 470.0,556.0 C473.2,555.4 482.2,554.8 486.0,555.5 C489.8,556.2 492.0,558.1 493.0,560.0 C494.0,561.9 494.2,565.6 492.0,567.0 C489.8,568.4 484.0,568.7 480.0,568.5 C476.0,568.3 470.2,567.6 468.0,566.0 C465.8,564.4 466.3,560.7 466.6,559.0 Z" fill="none" stroke="#222" stroke-width="2.3" stroke-linejoin="round" stroke-linecap="round"/>
<path d="M471.0,574.0 C471.8,570.8 471.8,571.5 475.0,571.0 C478.2,570.5 486.8,570.3 490.0,571.0 C493.2,571.7 493.3,571.8 494.0,575.0 C494.7,578.2 494.7,586.8 494.0,590.0 C493.3,593.2 493.2,593.3 490.0,594.0 C486.8,594.7 478.3,594.7 475.0,594.0 C471.7,593.3 470.7,593.3 470.0,590.0 C469.3,586.7 470.2,577.2 471.0,574.0 Z" fill="none" stroke="#222" stroke-width="2.3" stroke-linejoin="round" stroke-linecap="round"/>
<path d="M473.0,577.0 C473.8,575.2 474.8,575.0 478.0,575.0 C481.2,575.0 489.7,574.8 492.0,577.0 C494.3,579.2 492.7,585.5 492.0,588.0 C491.3,590.5 490.3,591.3 488.0,592.0 C485.7,592.7 480.5,593.0 478.0,592.0 C475.5,591.0 473.8,588.5 473.0,586.0 C472.2,583.5 472.2,578.8 473.0,577.0 Z" fill="none" stroke="#222" stroke-width="2.3" stroke-linejoin="round" stroke-linecap="round"/>
<path d="M498.0,469.5 C500.3,469.6 508.9,468.6 512.0,470.0 C515.1,471.4 516.6,475.0 516.6,478.0 C516.6,481.0 514.8,485.9 512.0,488.0 C509.2,490.1 502.0,490.1 500.0,490.5" fill="none" stroke="#222" stroke-width="2.3" stroke-linejoin="round" stroke-linecap="round"/>
<path d="M512.1,457.7 C512.0,458.4 510.5,459.0 507.4,459.7 C504.3,460.4 499.1,461.3 493.4,462.0 C487.6,462.7 480.0,463.2 472.7,463.7 C465.4,464.1 456.6,464.7 449.5,464.7 C442.3,464.7 435.5,464.1 429.7,463.8 C423.9,463.5 417.9,463.4 414.7,462.8 C411.5,462.3 410.4,461.2 410.4,460.4 C410.5,459.7 411.8,459.1 414.8,458.3 C417.8,457.6 422.8,456.7 428.6,455.9 C434.4,455.1 442.2,453.9 449.4,453.4 C456.7,452.9 464.7,453.0 472.1,453.0 C479.4,453.0 487.6,453.0 493.5,453.4 C499.4,453.8 504.4,454.8 507.5,455.5 C510.6,456.2 512.1,457.0 512.1,457.7 Z" fill="none" stroke="#222" stroke-width="2.3" stroke-linejoin="round" stroke-linecap="round"/>
<path d="M513.6,462.3 C513.6,462.9 512.5,463.8 509.3,464.5 C506.1,465.2 500.4,466.0 494.5,466.5 C488.6,467.0 481.1,467.2 473.9,467.5 C466.7,467.9 458.6,468.5 451.3,468.6 C443.9,468.7 435.7,468.4 429.8,468.2 C423.9,468.0 418.9,468.0 415.7,467.5 C412.5,467.0 410.7,465.9 410.8,465.1 C410.8,464.3 413.0,463.5 416.1,462.9 C419.3,462.4 424.1,462.4 429.8,461.9 C435.5,461.5 443.0,460.6 450.3,460.2 C457.5,459.9 465.8,459.9 473.2,459.9 C480.6,459.8 488.9,459.8 494.9,460.0 C500.9,460.1 506.3,460.4 509.4,460.7 C512.6,461.1 513.7,461.7 513.6,462.3 Z" fill="none" stroke="#222" stroke-width="2.3" stroke-linejoin="round" stroke-linecap="round"/>
<path d="M502.4,486.1 C502.5,487.1 502.1,488.1 500.0,489.1 C497.9,490.0 494.0,490.8 490.0,491.8 C486.1,492.8 481.1,494.4 476.4,495.2 C471.6,496.0 466.4,496.5 461.4,496.5 C456.4,496.6 450.3,496.0 446.2,495.4 C442.1,494.8 439.1,493.7 436.9,492.8 C434.7,491.8 433.2,491.0 432.9,489.9 C432.7,488.8 433.4,487.4 435.6,486.2 C437.8,485.0 442.2,483.7 446.1,482.9 C450.0,482.0 454.2,481.5 459.1,480.9 C464.0,480.3 470.5,479.3 475.5,479.2 C480.5,479.2 484.9,479.9 488.9,480.5 C492.9,481.2 497.2,482.0 499.5,482.9 C501.7,483.9 502.4,485.1 502.4,486.1 Z" fill="none" stroke="#222" stroke-width="2.3" stroke-linejoin="round" stroke-linecap="round"/>
<path d="M500.4,494.3 C500.7,495.2 500.3,495.5 498.2,496.5 C496.2,497.4 491.9,498.8 488.0,499.8 C484.2,500.8 479.6,502.0 475.0,502.5 C470.5,503.1 465.7,503.1 460.9,503.2 C456.2,503.2 450.5,503.3 446.7,503.0 C442.9,502.7 439.9,502.1 438.0,501.3 C436.1,500.6 435.5,499.6 435.5,498.6 C435.4,497.5 435.9,496.4 437.8,495.1 C439.7,493.9 443.2,491.9 447.0,491.1 C450.7,490.2 455.8,490.2 460.5,489.9 C465.2,489.5 470.6,489.1 475.1,488.9 C479.6,488.7 484.0,488.4 487.6,488.8 C491.2,489.1 494.4,490.1 496.5,491.0 C498.6,492.0 500.1,493.4 500.4,494.3 Z" fill="none" stroke="#222" stroke-width="2.3" stroke-linejoin="round" stroke-linecap="round"/>
<path d="M498.8,501.2 C498.6,502.1 497.4,502.9 495.2,503.8 C492.9,504.8 489.4,506.1 485.4,507.0 C481.4,507.9 476.2,508.4 471.3,509.1 C466.4,509.8 461.2,510.9 456.0,511.1 C450.8,511.4 444.4,510.8 440.2,510.4 C435.9,510.0 432.6,509.5 430.2,509.0 C427.9,508.4 426.0,508.1 426.1,507.1 C426.3,506.2 428.6,504.5 430.9,503.3 C433.2,502.1 436.1,500.7 439.9,499.8 C443.8,498.9 448.8,498.3 453.8,497.9 C458.9,497.5 465.2,497.8 470.3,497.5 C475.4,497.3 480.4,496.3 484.7,496.5 C489.0,496.7 493.9,498.1 496.2,498.8 C498.6,499.6 498.9,500.4 498.8,501.2 Z" fill="none" stroke="#222" stroke-width="2.3" stroke-linejoin="round" stroke-linecap="round"/>
<path d="M502.3,510.2 C502.3,511.1 501.6,511.8 499.3,512.6 C496.9,513.4 492.4,514.1 488.1,514.9 C483.7,515.8 478.2,517.1 473.1,517.8 C467.9,518.5 462.3,518.9 457.1,518.9 C451.8,519.0 445.8,518.1 441.6,517.9 C437.5,517.7 434.2,518.2 432.0,517.7 C429.7,517.2 428.2,516.0 428.2,515.1 C428.1,514.1 429.5,513.1 431.6,512.1 C433.7,511.0 436.8,510.0 440.8,508.9 C444.9,507.9 450.7,506.6 455.9,505.9 C461.1,505.3 466.7,505.2 472.0,505.2 C477.2,505.2 482.9,505.7 487.4,506.0 C491.9,506.2 496.5,506.2 499.0,506.9 C501.5,507.6 502.2,509.2 502.3,510.2 Z" fill="none" stroke="#222" stroke-width="2.3" stroke-linejoin="round" stroke-linecap="round"/>
<path d="M504.6,517.1 C504.7,518.4 503.3,519.8 501.2,521.2 C499.1,522.6 495.5,524.4 491.8,525.6 C488.1,526.9 483.9,528.0 479.1,528.6 C474.4,529.2 468.0,529.5 463.0,529.4 C458.1,529.3 453.4,528.2 449.4,527.7 C445.5,527.3 441.7,527.5 439.5,526.7 C437.2,525.8 436.1,524.3 435.9,522.8 C435.8,521.3 436.5,519.3 438.6,517.8 C440.6,516.4 444.5,515.2 448.5,514.3 C452.4,513.4 457.6,513.2 462.4,512.6 C467.1,512.0 472.1,510.8 477.1,510.7 C482.0,510.6 488.1,511.4 492.0,511.9 C495.9,512.3 498.5,512.5 500.6,513.4 C502.7,514.3 504.5,515.8 504.6,517.1 Z" fill="none" stroke="#222" stroke-width="2.3" stroke-linejoin="round" stroke-linecap="round"/>
<path d="M503.8,525.9 C504.0,527.0 503.9,528.2 501.6,529.4 C499.3,530.6 494.6,532.1 490.1,533.0 C485.6,533.9 479.7,534.2 474.4,534.9 C469.2,535.5 464.1,536.6 458.8,537.0 C453.5,537.3 447.1,537.3 442.6,536.9 C438.1,536.5 434.0,535.8 431.6,534.7 C429.2,533.5 428.2,531.6 428.1,530.2 C427.9,528.8 428.5,527.6 430.7,526.5 C432.9,525.3 436.9,524.3 441.2,523.3 C445.5,522.2 451.1,520.9 456.5,520.3 C461.8,519.7 467.9,520.0 473.4,519.9 C478.8,519.8 484.7,519.3 489.2,519.7 C493.7,520.2 498.0,521.5 500.5,522.6 C502.9,523.6 503.6,524.7 503.8,525.9 Z" fill="none" stroke="#222" stroke-width="2.3" stroke-linejoin="round" stroke-linecap="round"/>
<path d="M444.0,548.0 C444.2,545.5 444.7,541.8 447.0,540.0 C449.3,538.2 452.5,537.5 458.0,537.0 C463.5,536.5 475.0,536.2 480.0,537.0 C485.0,537.8 486.8,539.5 488.0,542.0 C489.2,544.5 488.7,549.2 487.0,552.0 C485.3,554.8 482.8,557.8 478.0,559.0 C473.2,560.2 463.3,559.7 458.0,559.0 C452.7,558.3 448.3,556.8 446.0,555.0 C443.7,553.2 443.8,550.5 444.0,548.0 Z" fill="none" stroke="#222" stroke-width="2.3" stroke-linejoin="round" stroke-linecap="round"/>
<path d="M450.0,546.0 C450.5,543.7 451.7,540.5 455.0,539.0 C458.3,537.5 465.2,537.0 470.0,537.0 C474.8,537.0 481.3,537.2 484.0,539.0 C486.7,540.8 486.7,545.2 486.0,548.0 C485.3,550.8 483.5,554.5 480.0,556.0 C476.5,557.5 469.7,557.5 465.0,557.0 C460.3,556.5 454.5,554.8 452.0,553.0 C449.5,551.2 449.5,548.3 450.0,546.0 Z" fill="none" stroke="#222" stroke-width="2.3" stroke-linejoin="round" stroke-linecap="round"/>
<path d="M453.0,556.0 C450.7,554.2 453.5,547.7 456.0,545.0 C458.5,542.3 463.2,541.3 468.0,540.0 C472.8,538.7 481.7,536.0 485.0,537.0 C488.3,538.0 488.5,543.3 488.0,546.0 C487.5,548.7 485.0,551.3 482.0,553.0 C479.0,554.7 474.8,555.5 470.0,556.0 C465.2,556.5 455.3,557.8 453.0,556.0 Z" fill="none" stroke="#222" stroke-width="2.3" stroke-linejoin="round" stroke-linecap="round"/>
<path d="M468.0,552.0 C468.3,549.7 474.7,543.2 478.0,541.0 C481.3,538.8 486.7,537.7 488.0,539.0 C489.3,540.3 488.0,546.3 486.0,549.0 C484.0,551.7 479.0,554.5 476.0,555.0 C473.0,555.5 467.7,554.3 468.0,552.0 Z" fill="none" stroke="#222" stroke-width="2.3" stroke-linejoin="round" stroke-linecap="round"/>
<path d="M473.0,578.0 C474.2,579.3 477.5,583.7 480.0,586.0 C482.5,588.3 485.8,592.5 488.0,592.0 C490.2,591.5 492.2,584.5 493.0,583.0" fill="none" stroke="#222" stroke-width="2.3" stroke-linejoin="round" stroke-linecap="round"/>
<path d="M496.9,449.2 C499.4,448.9 506.8,447.7 511.8,447.5 C516.8,447.3 522.0,447.2 526.8,448.1 C531.6,449.0 536.2,451.2 540.6,452.7 C545.0,454.2 551.2,456.5 553.3,457.3" fill="none" stroke="#222" stroke-width="2.3" stroke-linejoin="round" stroke-linecap="round"/>
<path d="M440.0,456.4 C444.9,455.7 459.4,452.9 469.5,452.2 C479.6,451.5 495.4,452.2 500.6,452.2" fill="none" stroke="#222" stroke-width="2.3" stroke-linejoin="round" stroke-linecap="round"/>
<path d="M447.0,489.0 C450.8,488.7 461.7,487.7 470.0,487.0 C478.3,486.3 492.5,485.3 497.0,485.0" fill="none" stroke="#222" stroke-width="3.4" stroke-linejoin="round" stroke-linecap="round"/>
<path d="M447.0,496.0 C450.8,495.7 461.7,494.7 470.0,494.0 C478.3,493.3 492.5,492.3 497.0,492.0" fill="none" stroke="#222" stroke-width="3.4" stroke-linejoin="round" stroke-linecap="round"/>
<path d="M447.0,503.0 C450.8,502.7 461.7,501.7 470.0,501.0 C478.3,500.3 492.5,499.3 497.0,499.0" fill="none" stroke="#222" stroke-width="3.4" stroke-linejoin="round" stroke-linecap="round"/>
<path d="M447.0,510.0 C450.8,509.7 461.7,508.7 470.0,508.0 C478.3,507.3 492.5,506.3 497.0,506.0" fill="none" stroke="#222" stroke-width="3.4" stroke-linejoin="round" stroke-linecap="round"/>
<path d="M447.0,517.0 C450.8,516.7 461.7,515.7 470.0,515.0 C478.3,514.3 492.5,513.3 497.0,513.0" fill="none" stroke="#222" stroke-width="3.4" stroke-linejoin="round" stroke-linecap="round"/>
<path d="M447.0,524.0 C450.8,523.7 461.7,522.7 470.0,522.0 C478.3,521.3 492.5,520.3 497.0,520.0" fill="none" stroke="#222" stroke-width="3.4" stroke-linejoin="round" stroke-linecap="round"/>
<path d="M447.0,531.0 C450.8,530.7 461.7,529.7 470.0,529.0 C478.3,528.3 492.5,527.3 497.0,527.0" fill="none" stroke="#222" stroke-width="3.4" stroke-linejoin="round" stroke-linecap="round"/>
<path d="M447.0,537.0 C450.8,536.7 461.7,535.7 470.0,535.0 C478.3,534.3 492.5,533.3 497.0,533.0" fill="none" stroke="#222" stroke-width="3.4" stroke-linejoin="round" stroke-linecap="round"/>
<path d="M440.0,520.0 C437.3,514.5 436.0,509.7 436.0,505.0 C436.0,500.3 436.8,495.3 440.0,492.0 C443.2,488.7 448.3,486.7 455.0,485.0 C461.7,483.3 473.0,481.8 480.0,482.0 C487.0,482.2 493.8,483.0 497.0,486.0 C500.2,489.0 499.2,494.3 499.0,500.0 C498.8,505.7 497.5,514.2 496.0,520.0 C494.5,525.8 494.3,531.7 490.0,535.0 C485.7,538.3 476.3,539.5 470.0,540.0 C463.7,540.5 457.0,541.3 452.0,538.0 C447.0,534.7 442.7,525.5 440.0,520.0 Z" fill="none" stroke="#222" stroke-width="2.3" stroke-linejoin="round" stroke-linecap="round"/>
<path d="M447.0,530.0 C441.7,526.0 442.8,517.5 443.0,512.0 C443.2,506.5 444.3,500.7 448.0,497.0 C451.7,493.3 458.0,491.3 465.0,490.0 C472.0,488.7 484.7,486.5 490.0,489.0 C495.3,491.5 496.7,498.5 497.0,505.0 C497.3,511.5 495.7,522.8 492.0,528.0 C488.3,533.2 482.5,535.7 475.0,536.0 C467.5,536.3 452.3,534.0 447.0,530.0 Z" fill="none" stroke="#222" stroke-width="2.3" stroke-linejoin="round" stroke-linecap="round"/>
</svg>
</body></html>
